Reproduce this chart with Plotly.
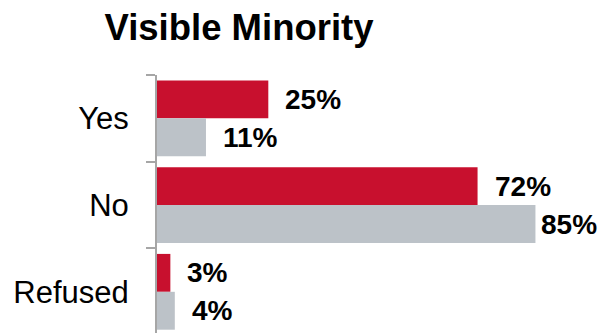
import plotly.graph_objects as go

# Survey responses: share of respondents (%)
categories = ["Yes", "No", "Refused"]
group_a = [25, 72, 3]
group_b = [11, 85, 4]

RED = "#C8102E"
GRAY = "#BCC2C8"
FONT = "Liberation Sans, Arial, sans-serif"

W, H = 600, 333
M_L, M_T = 157, 75
X_MAX = 99.5
BARGAP = 0.126

fig = go.Figure()
fig.add_trace(go.Bar(y=categories, x=group_a, orientation="h",
                     marker=dict(color=RED, line=dict(width=0)), name="A"))
fig.add_trace(go.Bar(y=categories, x=group_b, orientation="h",
                     marker=dict(color=GRAY, line=dict(width=0)), name="B"))

# value labels placed just past each bar end
px_per_unit = (W - M_L) / X_MAX
label_w = 58
half = (1 - BARGAP) / 4
for series, off in ((group_a, -half), (group_b, half)):
    for i, v in enumerate(series):
        bar_end = M_L + v * px_per_unit
        shift = min(15, W - 3 - label_w - bar_end)
        fig.add_annotation(x=v, y=i + off, xref="x", yref="y",
                           text=f"<b>{v}%</b>", showarrow=False,
                           xanchor="left", yanchor="middle", xshift=shift,
                           font=dict(family=FONT, size=28, color="#000000"))

fig.update_layout(
    width=W, height=H,
    margin=dict(l=M_L, r=0, t=M_T, b=0, pad=0),
    paper_bgcolor="white", plot_bgcolor="white",
    barmode="group", bargap=BARGAP, bargroupgap=0,
    showlegend=False,
    title=dict(text="<b>Visible Minority</b>", x=239 / W, xanchor="center",
               y=1 - 27 / H, yanchor="middle", xref="container",
               font=dict(family=FONT, size=36.5, color="#000000")),
    xaxis=dict(range=[0, X_MAX], visible=False, fixedrange=True),
    yaxis=dict(type="category", range=[2.475, -0.5],
               showline=True, linecolor="#A6A6A6", linewidth=2,
               ticks="outside", tickson="boundaries", ticklen=9,
               tickcolor="#A6A6A6", tickwidth=2,
               ticklabelstandoff=20,
               showgrid=False, zeroline=False,
               tickfont=dict(family=FONT, size=31, color="#000000")),
)

fig.write_html("out.html")
